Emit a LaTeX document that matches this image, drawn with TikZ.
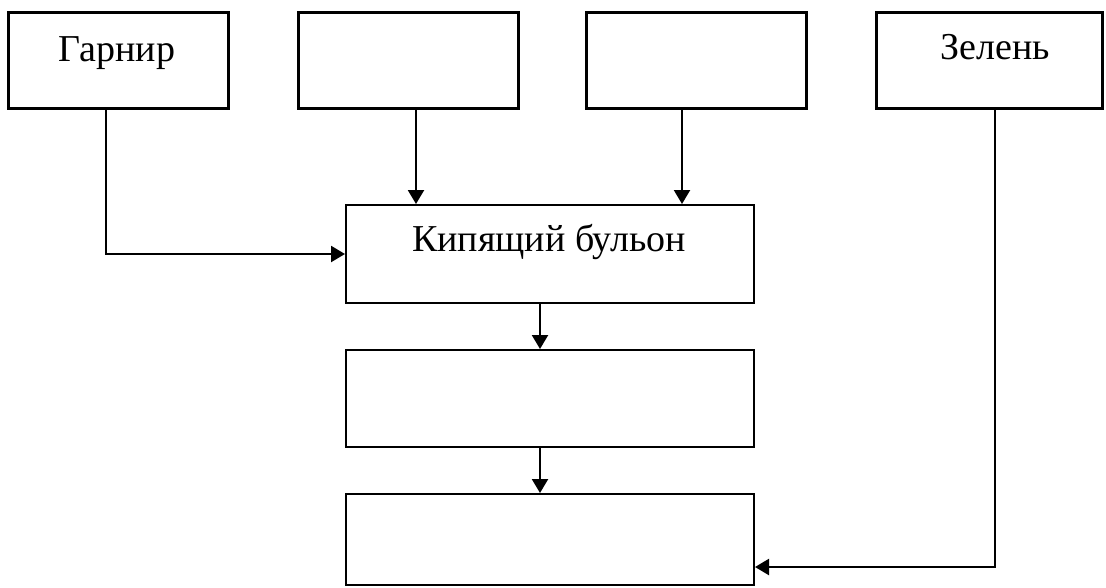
\documentclass[tikz,border=0pt]{standalone}
\usepackage{fontspec}
\setmainfont{Liberation Serif}
\usetikzlibrary{arrows.meta}
\begin{document}
\begin{tikzpicture}[x=1pt,y=1pt,
  topbox/.style={draw,line width=3pt,rectangle,inner sep=0pt,minimum height=96pt},
  midbox/.style={draw,line width=2pt,rectangle,inner sep=0pt,minimum width=408pt},
  lbl/.style={font=\fontsize{38}{42}\selectfont,anchor=base,inner sep=0pt},
  arr/.style={line width=2.2pt,-{Triangle[length=14pt,width=16pt]}}]
\useasboundingbox (0,0) rectangle (1106,-587);
\fill[white] (0,0) rectangle (1106,-587);
% top boxes
\node[topbox,minimum width=220pt] (g) at (118,-60) {};
\node[topbox,minimum width=220pt] (b2) at (408,-60) {};
\node[topbox,minimum width=220pt] (b3) at (696,-60) {};
\node[topbox,minimum width=226pt] (z) at (989,-60) {};
\node[lbl] (gt) at (117,-61) {Гарнир};
\node[lbl] (zt) at (995,-59) {Зелень};
% middle column
\node[midbox,minimum height=98pt] (a) at (550,-254) {};
\node[midbox,minimum height=97pt] (bb) at (550,-398.5) {};
\node[midbox,minimum height=91pt] (c) at (550,-539.5) {};
\node[lbl] (at) at (549,-251) {Кипящий бульон};
% connectors
\draw[arr] ([xshift=-12pt]g.south) |- (a.west);
\draw[arr] ([xshift=8pt]b2.south) -- ([xshift=-134pt]a.north);
\draw[arr] ([xshift=-14pt]b3.south) -- ([xshift=132pt]a.north);
\draw[arr] ([xshift=-10pt]a.south) -- ([xshift=-10pt]bb.north);
\draw[arr] ([xshift=-10pt]bb.south) -- ([xshift=-10pt]c.north);
\draw[arr] ([xshift=6pt]z.south) |- ([yshift=-27.5pt]c.east);
\end{tikzpicture}
\end{document}
